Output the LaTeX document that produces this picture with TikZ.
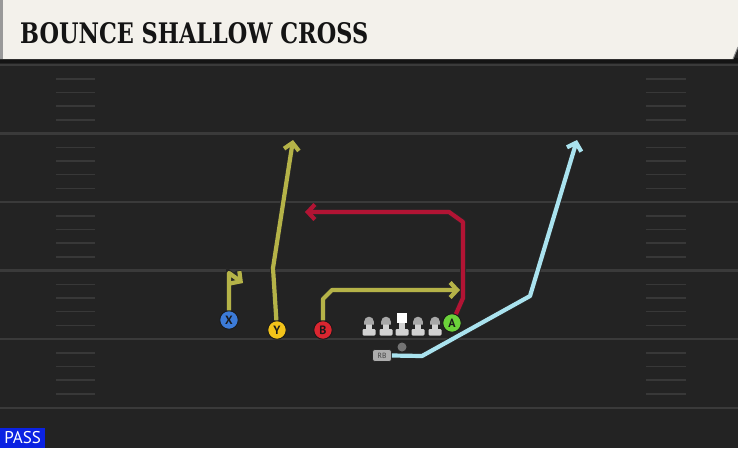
\documentclass[tikz,border=0pt]{standalone}
\usepackage{fontspec}
\usepackage{graphicx}
\usetikzlibrary{arrows.meta}
\newfontfamily\titlefont{DejaVu Serif}
\newfontfamily\labfont{PT Sans}
\definecolor{fieldbg}{HTML}{232323}
\definecolor{fieldline}{HTML}{3A3A3A}
\definecolor{hashc}{HTML}{383838}
\definecolor{titlebg}{HTML}{F3F1EB}
\definecolor{routey}{HTML}{B5B348}
\definecolor{router}{HTML}{B21434}
\definecolor{routeb}{HTML}{AAE3EF}
\definecolor{xblue}{HTML}{3C7BD8}
\definecolor{yyellow}{HTML}{F2C31A}
\definecolor{bred}{HTML}{DA2630}
\definecolor{agreen}{HTML}{6BD23A}
\definecolor{lmbody}{HTML}{D2D2D2}
\definecolor{lmhead}{HTML}{A8A8A8}
\definecolor{passblue}{HTML}{0B22E2}
\begin{document}
\begin{tikzpicture}[x=1pt,y=-1pt,
  player/.style={circle, minimum size=18.5pt, inner sep=0pt, draw=black!90, line width=0.9pt,
    font=\labfont\bfseries\fontsize{12}{12}\selectfont, text=black!90},
  route/.style={line width=4.2pt, line join=round, preaction={draw=black!85, line width=6pt}},
  tip/.style={-{Straight Barb[length=7pt,width=15pt]}},
  hash/.style={draw=hashc, line width=1.5pt},
  yardline/.style={draw=fieldline, line width=2.2pt},
  rbtag/.style={rounded corners=2.5pt, fill=black!32, draw=black!85, line width=0.7pt,
    minimum width=19pt, minimum height=12pt, inner sep=0pt,
    font=\labfont\fontsize{7.5}{7.5}\selectfont, text=black!75},
  lineman/.pic={
    \fill[lmbody] (-2.6,-4) rectangle (2.6,3);
    \fill[lmbody, rounded corners=1.2pt] (-6.5,2) rectangle (6.5,8.5);
    \fill[lmhead] (-4.8,-2.5) -- (-4.8,-5.5) arc[start angle=180,end angle=360,radius=4.8] -- (4.8,-2.5) -- cycle;
  },
  centerman/.pic={
    \fill[lmbody] (-2.6,-4) rectangle (2.6,3);
    \fill[lmbody, rounded corners=1.2pt] (-6.5,2) rectangle (6.5,8.5);
    \fill[white] (-5,-14) rectangle (5,-4);
  }
]
\useasboundingbox (0,0) rectangle (738,448);
% field
\fill[fieldbg] (0,0) rectangle (738,448);
\fill[black!92] (0,58) rectangle (738,63);
\foreach \ly in {65,133.5,202,270.5,339,408} {\draw[yardline] (0,\ly) -- (738,\ly);}
\foreach \ly in {65,133.5,202,270.5,339} {
  \foreach \o in {14,27.5,41,55} {
    \draw[hash] (56,{\ly+\o}) -- (95,{\ly+\o});
    \draw[hash] (646,{\ly+\o}) -- (686,{\ly+\o});
  }
}
% title bar
\fill[titlebg] (0,0) -- (738,0) -- (738,47) -- (733,59) -- (0,59) -- cycle;
\fill[black!40] (0,0) rectangle (3,59);
\draw[black!45, line width=1pt] (738,47) -- (733,59);
\node[anchor=base west, inner sep=0pt, text=black!92] (title) at (20,43)
  {\resizebox{348pt}{21pt}{\titlefont\bfseries BOUNCE SHALLOW CROSS}};
% players
\node[player, fill=xblue] (X) at (229,320) {X};
\node[player, fill=yyellow] (Y) at (277,330) {Y};
\node[player, fill=bred] (B) at (323,330) {B};
\node[player, fill=agreen] (A) at (452,323) {A};
\node[rbtag] (RB) at (382,355.5) {RB};
\node[circle, fill=black!55, minimum size=9pt, inner sep=0pt] (QB) at (402,347) {};
\pic at (369,327) {lineman};
\pic at (386,327) {lineman};
\pic at (402,327) {centerman};
\pic at (418,327) {lineman};
\pic at (435,327) {lineman};
% route points
\coordinate (x1) at (229,273);
\coordinate (x2) at (243,283);
\coordinate (y1) at (273,268);
\coordinate (y2) at (293,140);
\coordinate (b1) at (323,299);
\coordinate (b2) at (332,290);
\coordinate (b3) at (460,290);
\coordinate (a1) at (463,298);
\coordinate (a2) at (463,222);
\coordinate (a3) at (449,212);
\coordinate (a4) at (305,212);
\coordinate (r1) at (422,356);
\coordinate (r2) at (530,296);
\coordinate (r3) at (577,140);
% routes
\draw[route, tip, routey] (X) -- (x1) -- (x2);
\draw[route, tip, routey] (Y) -- (y1) -- (y2);
\draw[route, tip, routey] (B) -- (b1) -- (b2) -- (b3);
\draw[route, tip, router] (A) -- (a1) -- (a2) -- (a3) -- (a4);
\draw[route, tip, routeb] (RB.east) -- (r1) -- (r2) -- (r3);
% play type
\node[fill=passblue, text=white, anchor=south west, minimum width=45pt, minimum height=20pt,
  inner sep=0pt, font=\labfont\fontsize{17}{17}\selectfont] (pass) at (0,448) {PASS};
\end{tikzpicture}
\end{document}
